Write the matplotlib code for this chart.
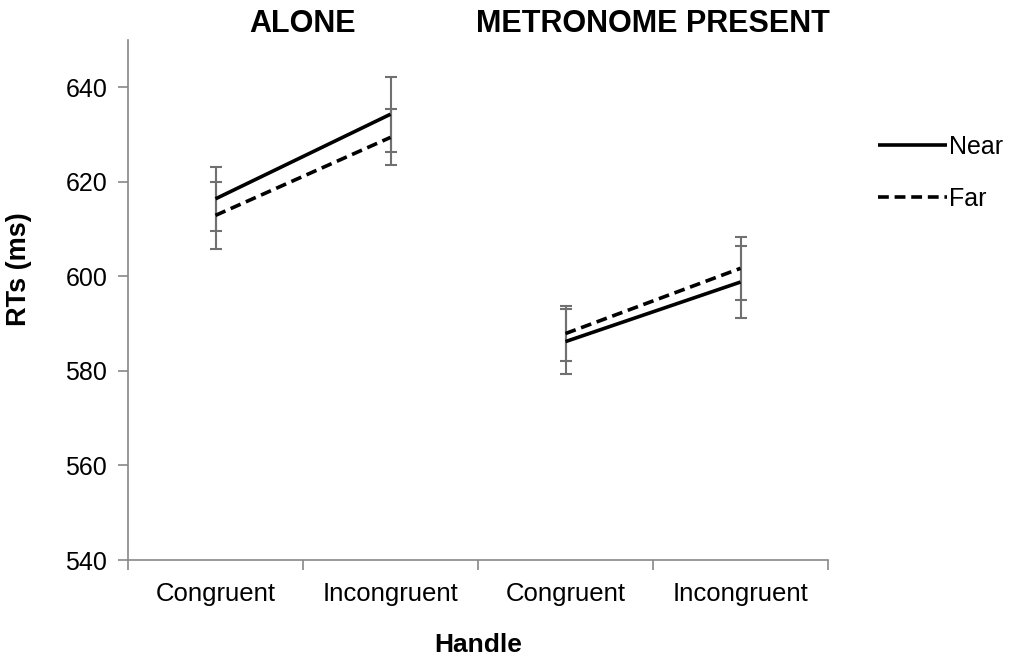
import matplotlib
matplotlib.use("Agg")
import matplotlib.pyplot as plt
import numpy as np

plt.rcParams['font.family'] = ['Liberation Sans', 'DejaVu Sans']

categories = ["Congruent", "Incongruent", "Congruent", "Incongruent"]
groups = ["ALONE", "METRONOME PRESENT"]
near_mean = [616.4, 634.3, 586.2, 598.8]
near_err = [6.8, 7.9, 6.9, 7.7]
far_mean = [612.9, 629.4, 587.9, 601.7]
far_err = [7.1, 5.9, 5.9, 6.6]

fig = plt.figure(figsize=(10.16, 6.56), dpi=100)
ax = fig.add_axes([128/1016, 1-560/656, 700/1016, 520/656])

x = np.arange(len(categories))
ecol = "#707070"
for gi in range(2):
    sl = slice(2*gi, 2*gi+2)
    ax.errorbar(x[sl], near_mean[sl], yerr=near_err[sl], fmt='none', ecolor=ecol,
                elinewidth=1.5, capsize=4.5, capthick=1.5, zorder=2)
    ax.errorbar(x[sl], far_mean[sl], yerr=far_err[sl], fmt='none', ecolor=ecol,
                elinewidth=1.5, capsize=4.5, capthick=1.5, zorder=2)
    ax.plot(x[sl], near_mean[sl], color='black', lw=2.6, solid_capstyle='butt',
            label="Near" if gi == 0 else None, zorder=3)
    ax.plot(x[sl], far_mean[sl], color='black', lw=2.6, ls=(0, (3, 1.6)),
            label="Far" if gi == 0 else None, zorder=3)

ax.set_xlim(-0.5, 3.5)
ax.set_ylim(540, 650)
ax.set_yticks([540, 560, 580, 600, 620, 640])
ax.set_xticks([-0.5, 0.5, 1.5, 2.5, 3.5])
ax.set_xticklabels([])
ax.set_xticks(x, minor=True)
ax.set_xticklabels(categories, minor=True, fontsize=18.5)
ax.tick_params(axis='x', which='minor', length=0, pad=16)
ax.tick_params(axis='x', which='major', length=7, color='#888888', width=1.2)
ax.tick_params(axis='y', length=7, color='#888888', width=1.2, labelsize=18, pad=8)
for s in ['top', 'right']:
    ax.spines[s].set_visible(False)
for s in ['left', 'bottom']:
    ax.spines[s].set_color('#888888')
    ax.spines[s].set_linewidth(1.2)

ax.set_ylabel("RTs (ms)", fontsize=19.5, fontweight='bold')
ax.yaxis.set_label_coords(-0.137, 0.56)
ax.set_xlabel("Handle", fontsize=19, fontweight='bold')
ax.xaxis.set_label_coords(0.5, -0.140)

for gi, g in enumerate(groups):
    ax.text(2*gi + 0.5, 1.002, g, transform=ax.get_xaxis_transform(),
            ha='center', va='bottom', fontsize=22, fontweight='bold')

ax.legend(loc='upper left', bbox_to_anchor=(878/1016, 1-135/656),
          bbox_transform=fig.transFigure, frameon=False, borderpad=0, borderaxespad=0,
          fontsize=18, handlelength=2.75, handletextpad=0.1, labelspacing=1.12)

fig.savefig("out.png", dpi=100)
